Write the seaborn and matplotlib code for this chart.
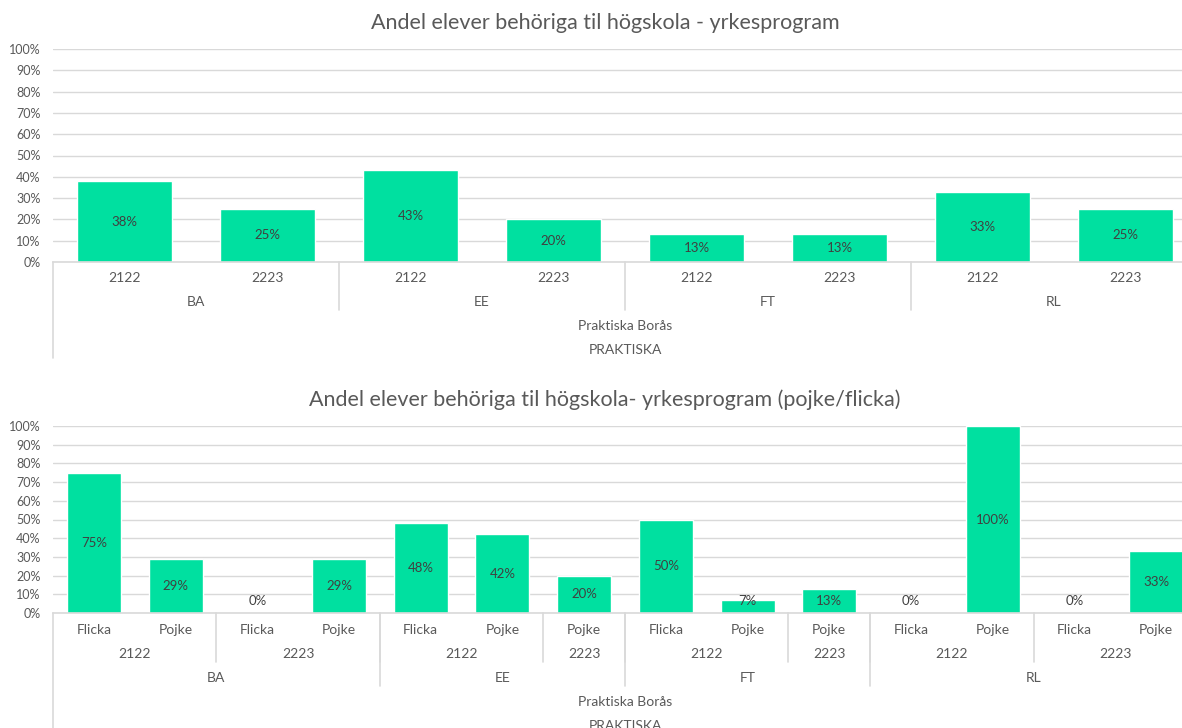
import numpy as np
import pandas as pd
import matplotlib
matplotlib.use("Agg")
import matplotlib.pyplot as plt
import seaborn as sns

# top chart: share per program and school year
programs = ['BA', 'BA', 'EE', 'EE', 'FT', 'FT', 'RL', 'RL']
years = ['2122', '2223', '2122', '2223', '2122', '2223', '2122', '2223']
share = [38, 25, 43, 20, 13, 13, 33, 25]

# bottom chart: share per program, school year and gender
programs2 = ['BA', 'BA', 'BA', 'BA', 'EE', 'EE', 'EE', 'FT', 'FT', 'FT', 'RL', 'RL', 'RL', 'RL']
years2 = ['2122', '2122', '2223', '2223', '2122', '2122', '2223',
          '2122', '2122', '2223', '2122', '2122', '2223', '2223']
gender2 = ['Flicka', 'Pojke', 'Flicka', 'Pojke', 'Flicka', 'Pojke', 'Pojke',
           'Flicka', 'Pojke', 'Pojke', 'Flicka', 'Pojke', 'Flicka', 'Pojke']
share2 = [75, 29, 0, 29, 48, 42, 20, 50, 7, 13, 0, 100, 0, 33]

school = 'Praktiska Borås'
group = 'PRAKTISKA'

title_top = 'Andel elever behöriga til högskola - yrkesprogram'
title_bottom = 'Andel elever behöriga til högskola- yrkesprogram (pojke/flicka)'

GREEN = '#00E0A0'
GRID = '#D9D9D9'
TEXT = '#595959'

sns.set_theme(style='white')
plt.rcParams['font.family'] = ['Lato', 'DejaVu Sans']

W, H = 1182, 728
fig = plt.figure(figsize=(W / 100, H / 100), dpi=100)


def make_axes(top_px, bottom_px):
    left, right = 53, 1197
    return fig.add_axes([left / W, 1 - bottom_px / H, (right - left) / W, (bottom_px - top_px) / H])


def draw_bars(ax, keys, values):
    df = pd.DataFrame({'key': keys, 'share': values})
    sns.barplot(data=df, x='key', y='share', color=GREEN, width=0.66,
                saturation=1, ax=ax, zorder=2)
    ax.set_ylim(0, 100)
    ax.set_xlim(-0.5, len(keys) - 0.5)
    ax.set_yticks(range(0, 101, 10))
    ax.set_yticklabels([f'{t}%' for t in range(0, 101, 10)], color=TEXT, fontsize=9)
    ax.tick_params(axis='y', length=0, pad=9)
    ax.set_xticks([])
    ax.set_xlabel('')
    ax.set_ylabel('')
    ax.grid(axis='y', color=GRID, lw=1, zorder=0)
    ax.set_axisbelow(True)
    for s in ['top', 'right', 'left']:
        ax.spines[s].set_visible(False)
    ax.spines['bottom'].set_color(GRID)
    ax.spines['bottom'].set_linewidth(1.2)
    # data labels, centred in the bar (kept off the axis for small bars)
    for i, v in enumerate(values):
        ax.text(i, max(v / 2, 6.4), f'{v}%', ha='center', va='center',
                fontsize=9.5, color='#404040')


def draw_levels(ax, levels, rows_px, seps_px, full_px):
    h_px = ax.get_position().height * H
    tr = ax.get_xaxis_transform()
    n = len(levels[0])
    for k, level in enumerate(levels):
        # runs of identical labels, taking the outer levels into account
        keys = [tuple(l[i] for l in levels[k:]) for i in range(n)]
        start = 0
        for i in range(1, n + 1):
            if i == n or keys[i] != keys[start]:
                ax.text((start + i - 1) / 2, -rows_px[k] / h_px, level[start],
                        transform=tr, ha='center', va='center', fontsize=10,
                        color=TEXT, clip_on=False)
                if k > 0 and 0 < i < n and seps_px[k]:
                    ax.plot([i - 0.5, i - 0.5], [0, -seps_px[k] / h_px], transform=tr,
                            color=GRID, lw=1.2, clip_on=False)
                start = i
    ax.plot([-0.5, -0.5], [0, -full_px / h_px], transform=tr, color=GRID, lw=1.2, clip_on=False)


ax1 = make_axes(49, 262)
keys1 = [f'{p}-{y}' for p, y in zip(programs, years)]
draw_bars(ax1, keys1, share)
draw_levels(ax1, [years, programs, [school] * len(years), [group] * len(years)],
            [16, 40, 64, 88], [0, 48, 0, 0], 96)

ax2 = make_axes(426, 613)
keys2 = [f'{p}-{y}-{g}' for p, y, g in zip(programs2, years2, gender2)]
draw_bars(ax2, keys2, share2)
draw_levels(ax2, [gender2, years2, programs2, [school] * len(years2), [group] * len(years2)],
            [17, 41, 65, 89, 113], [0, 49, 73, 0, 0], 120)

fig.text(605 / W, 1 - 23 / H, title_top, ha='center', va='center', fontsize=15.5, color=TEXT)
fig.text(605 / W, 1 - 400 / H, title_bottom, ha='center', va='center', fontsize=15.5, color=TEXT)

fig.savefig('out.png', dpi=100)
